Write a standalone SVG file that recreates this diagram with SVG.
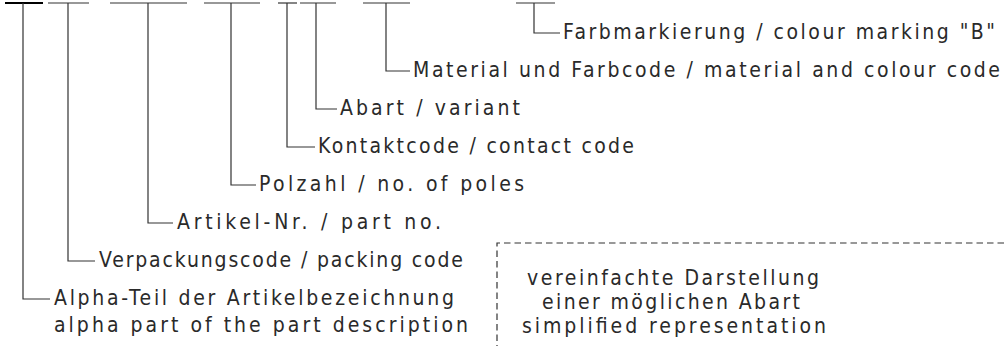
<svg xmlns="http://www.w3.org/2000/svg" width="1004" height="346" viewBox="0 0 1004 346">
<style>
  .ln{fill:none;stroke:#333;stroke-width:1.2}
  .bar0{fill:none;stroke:#000;stroke-width:2.2}
  .t{font-family:"Liberation Sans Narrow","DejaVu Sans Condensed","Liberation Sans",sans-serif;font-stretch:condensed;font-size:21px;fill:#2a2a2a}
  .dash{fill:none;stroke:#333;stroke-width:1.2;stroke-dasharray:6.5 4}
</style>
<rect width="1004" height="346" fill="#fff"/>
<g id="connectors">
  <line class="bar0" x1="5" y1="3" x2="43" y2="3"/>
  <line class="ln" x1="48" y1="3" x2="89" y2="3"/>
  <line class="ln" x1="110" y1="3" x2="187" y2="3"/>
  <line class="ln" x1="204" y1="3" x2="260" y2="3"/>
  <line class="ln" x1="278" y1="3" x2="297" y2="3"/>
  <line class="ln" x1="300" y1="3" x2="336" y2="3"/>
  <line class="ln" x1="363" y1="3" x2="410" y2="3"/>
  <line class="ln" x1="516" y1="3" x2="555" y2="3"/>
  <polyline class="ln" points="534,3 534,33 560,33"/>
  <polyline class="ln" points="386,3 386,71 410,71"/>
  <polyline class="ln" points="316,3 316,109 337,109"/>
  <polyline class="ln" points="287,3 287,147 315,147"/>
  <polyline class="ln" points="231,3 231,185 256,185"/>
  <polyline class="ln" points="148,3 148,223 173,223"/>
  <polyline class="ln" points="68,3 68,261 95,261"/>
  <polyline class="ln" points="23,3 23,299 50,299"/>
</g>
<g id="n-farb"><text class="t" x="563" y="39" textLength="432" lengthAdjust="spacing">Farbmarkierung / colour marking "B"</text></g>
<g id="n-material"><text class="t" x="413" y="77" textLength="587" lengthAdjust="spacing">Material und Farbcode / material and colour code</text></g>
<g id="n-abart"><text class="t" x="340" y="115" textLength="180" lengthAdjust="spacing">Abart / variant</text></g>
<g id="n-kontakt"><text class="t" x="318" y="153" textLength="316" lengthAdjust="spacing">Kontaktcode / contact code</text></g>
<g id="n-polzahl"><text class="t" x="259" y="191" textLength="265" lengthAdjust="spacing">Polzahl / no. of poles</text></g>
<g id="n-artikel"><text class="t" x="177" y="229" textLength="264" lengthAdjust="spacing">Artikel-Nr. / part no.</text></g>
<g id="n-verp"><text class="t" x="99" y="267" textLength="364" lengthAdjust="spacing">Verpackungscode / packing code</text></g>
<g id="n-alpha">
  <text class="t" x="54" y="305" textLength="400" lengthAdjust="spacing">Alpha-Teil der Artikelbezeichnung</text>
  <text class="t" x="54" y="332" textLength="414" lengthAdjust="spacing">alpha part of the part description</text>
</g>
<g id="n-box">
  <polyline class="dash" points="1004,243 497,243 497,346"/>
  <text class="t" x="527" y="285" textLength="292" lengthAdjust="spacing">vereinfachte Darstellung</text>
  <text class="t" x="542" y="309" textLength="258" lengthAdjust="spacing">einer möglichen Abart</text>
  <text class="t" x="522" y="333" textLength="304" lengthAdjust="spacing">simplified representation</text>
</g>
</svg>
